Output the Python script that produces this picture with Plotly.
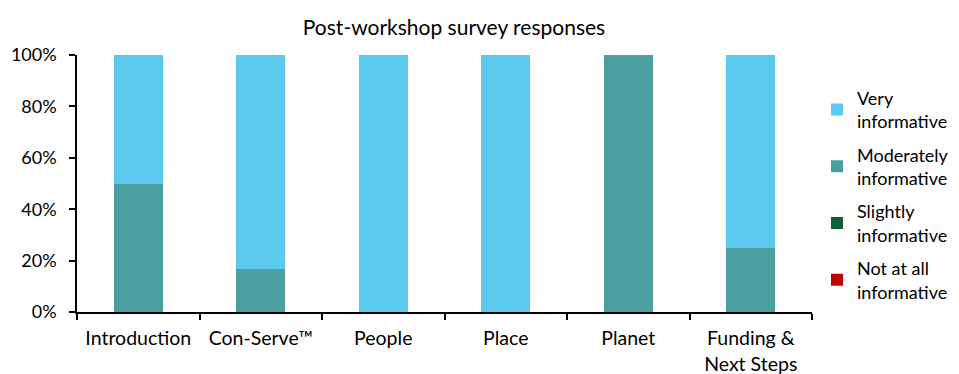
import plotly.graph_objects as go

# Survey results (share of respondents per session, in %)
sessions = ["Introduction", "Con-Serve™", "People", "Place", "Planet", "Funding &<br>Next Steps"]
not_at_all = [0, 0, 0, 0, 0, 0]
slightly = [0, 0, 0, 0, 0, 0]
moderately = [50, 16.7, 0, 0, 100, 25]
very = [50, 83.3, 100, 100, 0, 75]

# stacked bottom to top; legend lists them top to bottom (rank)
series = [
    ("Not at all<br>informative", not_at_all, "#C00000", 4),
    ("Slightly<br>informative", slightly, "#0E5E36", 3),
    ("Moderately<br>informative", moderately, "#4A9FA0", 2),
    ("Very<br>informative", very, "#5BC9EE", 1),
]

FONT = "Lato"
fig = go.Figure()
for name, vals, color, rank in series:
    fig.add_trace(go.Bar(
        x=sessions, y=vals, name=name, legendgroup=name, legendrank=rank,
        marker=dict(color=color, line=dict(width=0)),
    ))

fig.update_layout(
    width=959, height=374,
    margin=dict(l=77, r=147, t=55, b=62, autoexpand=False),
    barmode="stack", bargap=0.6,
    plot_bgcolor="white", paper_bgcolor="white",
    font=dict(family=FONT, size=18, color="#000000"),
    title=dict(text="Post-workshop survey responses", x=0.4734, xanchor="center",
               y=0.925, yanchor="middle", font=dict(size=21, family=FONT, color="#000000")),
    legend=dict(traceorder="grouped", x=1.0068, xanchor="left", y=0.455, yanchor="middle",
                font=dict(size=18, family=FONT, color="#000000"), itemwidth=30,
                tracegroupgap=7, bgcolor="rgba(0,0,0,0)"),
    xaxis=dict(showline=True, linecolor="black", linewidth=1.5, ticks="outside",
               tickson="boundaries", ticklen=6, tickcolor="black", tickwidth=1.5,
               showgrid=False, ticklabelstandoff=8,
               tickfont=dict(size=19.5, family=FONT, color="#000000")),
    yaxis=dict(range=[0, 100], dtick=20, ticksuffix="%", showline=True, linecolor="black",
               linewidth=1.5, ticks="outside", ticklen=6, tickcolor="black", tickwidth=1.5,
               showgrid=False, zeroline=False, ticklabelstandoff=9,
               tickfont=dict(size=18, family=FONT, color="#000000")),
)

fig.write_html("out.html")
